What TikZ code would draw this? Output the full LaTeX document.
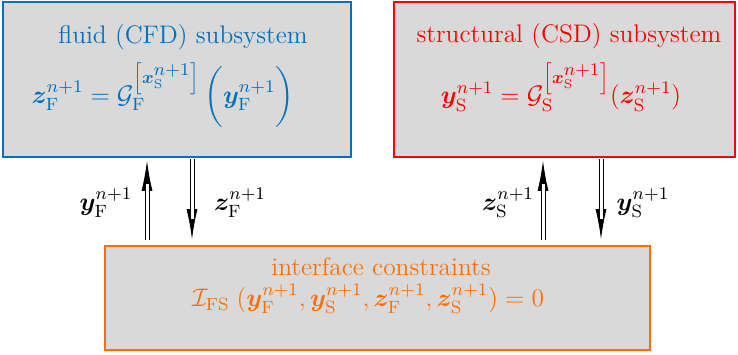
\RequirePackage{fix-cm}
\documentclass[tikz,border=0pt]{standalone}
\usepackage{amsmath,amssymb,bm}
\usetikzlibrary{arrows.meta,calc}
\definecolor{cfdblue}{RGB}{0,112,192}
\definecolor{csdred}{RGB}{255,0,0}
\definecolor{ifcorange}{RGB}{255,110,0}
\newcommand{\figfont}{\fontsize{12.7}{15}\selectfont}
\tikzset{
  sysbox/.style={draw, fill=gray!30, line width=0.8pt, inner sep=0pt},
  boxtext/.style={inner sep=0pt, font=\figfont},
  lbl/.style={inner sep=0pt, font=\figfont},
  headarrow/.style={line width=0.5pt, -{Latex[length=15pt,width=5.5pt]}},
  dblshaft/.style={line width=0.5pt, double, double distance=1.5pt, shorten >=13pt},
}
\begin{document}
\begin{tikzpicture}[x=0.5pt,y=-0.5pt]
\useasboundingbox (0,0) rectangle (738,354);
% boxes
\node[sysbox, draw=cfdblue, minimum width=174pt, minimum height=77.5pt] (fluid) at (177,79.5) {};
\node[sysbox, draw=csdred, minimum width=170.5pt, minimum height=77.5pt] (struct) at (564.5,79.5) {};
\node[sysbox, draw=ifcorange, minimum width=272.5pt, minimum height=52pt] (iface) at (377.5,298) {};
% texts
\node[boxtext, text=cfdblue] (ftitle) at (183,37) {fluid (CFD) subsystem};
\node[boxtext, text=cfdblue] (feq) at (163,95) {$\bm{z}_{\mathrm{F}}^{n+1} = \mathcal{G}_{\mathrm{F}}^{\left[\bm{x}_{\mathrm{S}}^{\scriptstyle n+1}\right]}\,\biggl(\bm{y}_{\mathrm{F}}^{n+1}\biggr)$};
\node[boxtext, text=csdred] (stitle) at (569,36) {structural (CSD) subsystem};
\node[boxtext, text=csdred] (seq) at (561,87) {$\bm{y}_{\mathrm{S}}^{n+1} = \mathcal{G}_{\mathrm{S}}^{\left[\bm{x}_{\mathrm{S}}^{\scriptstyle n+1}\right]}(\bm{z}_{\mathrm{S}}^{n+1})$};
\node[boxtext, text=ifcorange] (ititle) at (381,267) {interface constraints};
\node[boxtext, text=ifcorange] (ieq) at (368,299) {$\mathcal{I}_{\mathrm{FS}}\;(\bm{y}_{\mathrm{F}}^{n+1},\bm{y}_{\mathrm{S}}^{n+1},\bm{z}_{\mathrm{F}}^{n+1},\bm{z}_{\mathrm{S}}^{n+1})=0$};
% arrow positions
\coordinate (fu) at (147,0);
\coordinate (fd) at (192,0);
\coordinate (su) at (543,0);
\coordinate (sd) at (601,0);
% arrows: fluid
\draw[headarrow, shorten >=1.5pt, shorten <=2.5pt] (iface.north -| fu) -- (fluid.south -| fu);
\draw[dblshaft, shorten <=2.5pt] (iface.north -| fu) -- (fluid.south -| fu);
\draw[headarrow, shorten >=3pt, shorten <=0.5pt] (fluid.south -| fd) -- (iface.north -| fd);
\draw[dblshaft, shorten <=0.5pt] (fluid.south -| fd) -- (iface.north -| fd);
% arrows: structure
\draw[headarrow, shorten >=1.5pt, shorten <=2.5pt] (iface.north -| su) -- (struct.south -| su);
\draw[dblshaft, shorten <=2.5pt] (iface.north -| su) -- (struct.south -| su);
\draw[headarrow, shorten >=3pt, shorten <=0.5pt] (struct.south -| sd) -- (iface.north -| sd);
\draw[dblshaft, shorten <=0.5pt] (struct.south -| sd) -- (iface.north -| sd);
% labels
\node[lbl] (lyF) at (106,203) {$\bm{y}_{\mathrm{F}}^{n+1}$};
\node[lbl] (lzF) at (240,203) {$\bm{z}_{\mathrm{F}}^{n+1}$};
\node[lbl] (lzS) at (508,203) {$\bm{z}_{\mathrm{S}}^{n+1}$};
\node[lbl] (lyS) at (643,203) {$\bm{y}_{\mathrm{S}}^{n+1}$};
\end{tikzpicture}
\end{document}
